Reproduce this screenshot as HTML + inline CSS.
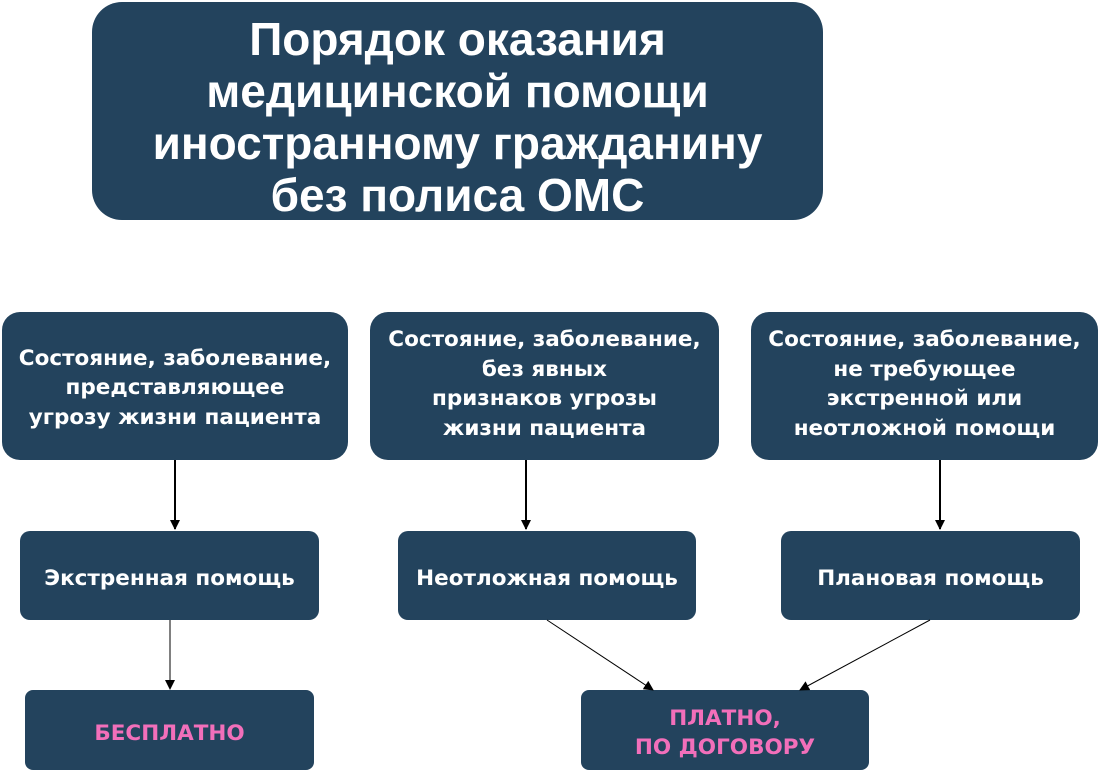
<!DOCTYPE html>
<html><head><meta charset="utf-8"><style>
body{margin:0;width:1100px;height:772px;background:#fff;position:relative;overflow:hidden;font-family:"DejaVu Sans","Liberation Sans",sans-serif;font-weight:bold}
.b{position:absolute;background:#23435d;color:#fff;display:flex;align-items:center;justify-content:center;text-align:center;box-sizing:border-box}
.t{font-size:46px;line-height:52px;border-radius:30px;font-family:"Liberation Sans",sans-serif;padding-top:12px}
.r1{border-radius:18px;font-size:21.5px;line-height:29.5px;padding-top:4px}
.r2{border-radius:10px;font-size:21.5px;padding-top:6px}
.p{color:#f26fba;font-size:21.5px;line-height:29px;border-radius:8px;padding-top:6px}
svg{position:absolute;left:0;top:0}
</style></head><body>
<div class="b t" style="left:92px;top:2px;width:731px;height:218px">Порядок оказания<br>медицинской помощи<br>иностранному гражданину<br>без полиса ОМС</div>
<div class="b r1" style="left:2px;top:312px;width:346px;height:148px">Состояние, заболевание,<br>представляющее<br>угрозу жизни пациента</div>
<div class="b r1" style="left:370px;top:312px;width:349px;height:148px;padding-top:0;padding-bottom:4px">Состояние, заболевание,<br>без явных<br>признаков угрозы<br>жизни пациента</div>
<div class="b r1" style="left:751px;top:312px;width:347px;height:148px;padding-top:0;padding-bottom:4px">Состояние, заболевание,<br>не требующее<br>экстренной или<br>неотложной помощи</div>
<div class="b r2" style="left:20px;top:531px;width:299px;height:89px">Экстренная помощь</div>
<div class="b r2" style="left:398px;top:531px;width:298px;height:89px">Неотложная помощь</div>
<div class="b r2" style="left:781px;top:531px;width:299px;height:89px">Плановая помощь</div>
<div class="b p" style="left:25px;top:690px;width:289px;height:80px">БЕСПЛАТНО</div>
<div class="b p" style="left:581px;top:690px;width:288px;height:80px">ПЛАТНО,<br>ПО ДОГОВОРУ</div>
<svg width="1100" height="772">
<defs><marker id="a" markerWidth="10" markerHeight="10" refX="9" refY="5" orient="auto" markerUnits="userSpaceOnUse"><path d="M0,0 L10,5 L0,10 z" fill="#000"/></marker></defs>
<g stroke="#000" fill="none">
<line x1="175" y1="460" x2="175" y2="529" stroke-width="2" marker-end="url(#a)"/>
<line x1="526" y1="460" x2="526" y2="529" stroke-width="2" marker-end="url(#a)"/>
<line x1="940" y1="460" x2="940" y2="529" stroke-width="2" marker-end="url(#a)"/>
<line x1="170" y1="620" x2="170" y2="689" stroke-width="1" marker-end="url(#a)"/>
<line x1="547" y1="620" x2="653" y2="690" stroke-width="1" marker-end="url(#a)"/>
<line x1="930" y1="620" x2="800" y2="690" stroke-width="1" marker-end="url(#a)"/>
</g></svg>
</body></html>
